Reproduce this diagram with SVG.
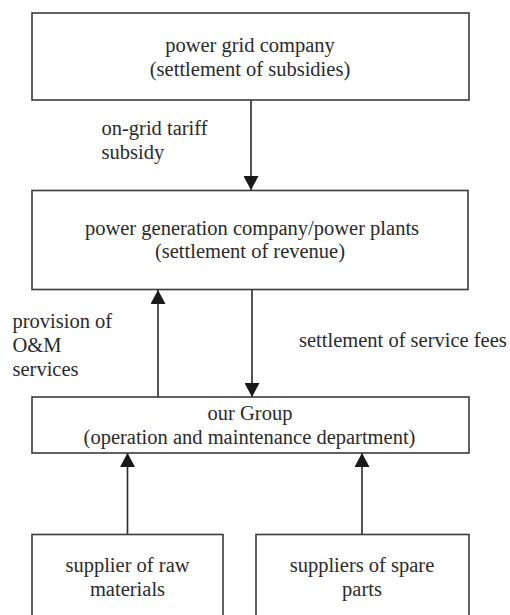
<svg xmlns="http://www.w3.org/2000/svg" width="510" height="615" viewBox="0 0 510 615">
<style>
.box{fill:#fff;stroke:#3a3a3a;stroke-width:1.6}
.t{font-family:"Liberation Serif","Times New Roman",serif;font-size:20.5px;fill:#2a2a2a}
.c{text-anchor:middle}
.line{stroke:#2a2a2a;stroke-width:1.6;fill:none;marker-end:url(#ah)}
</style>
<defs>
<marker id="ah" viewBox="0 0 14 15" refX="14" refY="7.5" markerWidth="14" markerHeight="15" markerUnits="userSpaceOnUse" orient="auto">
<path d="M0,0 L14,7.5 L0,15 z" fill="#1a1a1a"/>
</marker>
</defs>
<rect width="510" height="615" fill="#fff"/>
<g id="connectors">
<line class="line" x1="251" y1="100" x2="251" y2="190"/>
<line class="line" x1="158" y1="397" x2="158" y2="290"/>
<line class="line" x1="252" y1="290" x2="252" y2="397"/>
<line class="line" x1="127.5" y1="534.5" x2="127.5" y2="453"/>
<line class="line" x1="362" y1="534.5" x2="362" y2="453"/>
</g>
<g id="edge-labels">
<text class="t" x="101.5" y="135">on-grid tariff</text>
<text class="t" x="101.5" y="159">subsidy</text>
<text class="t" x="12.5" y="328">provision of</text>
<text class="t" x="12.5" y="352">O&amp;M</text>
<text class="t" x="12.5" y="376">services</text>
<text class="t" x="299" y="347">settlement of service fees</text>
</g>
<g id="grid">
<rect class="box" x="32" y="13" width="437" height="87"/>
<text class="t c" x="250" y="52">power grid company</text>
<text class="t c" x="250" y="76">(settlement of subsidies)</text>
</g>
<g id="generation">
<rect class="box" x="32" y="190.5" width="436" height="99"/>
<text class="t c" x="252" y="235">power generation company/power plants</text>
<text class="t c" x="250" y="258">(settlement of revenue)</text>
</g>
<g id="group">
<rect class="box" x="32" y="397" width="437" height="56"/>
<text class="t c" x="250" y="420">our Group</text>
<text class="t c" x="249.5" y="444">(operation and maintenance department)</text>
</g>
<g id="raw">
<rect class="box" x="32" y="534.5" width="191" height="100"/>
<text class="t c" x="127.5" y="572">supplier of raw</text>
<text class="t c" x="127.5" y="596">materials</text>
</g>
<g id="spare">
<rect class="box" x="256" y="534.5" width="213" height="100"/>
<text class="t c" x="362" y="572">suppliers of spare</text>
<text class="t c" x="362" y="596">parts</text>
</g>
</svg>
